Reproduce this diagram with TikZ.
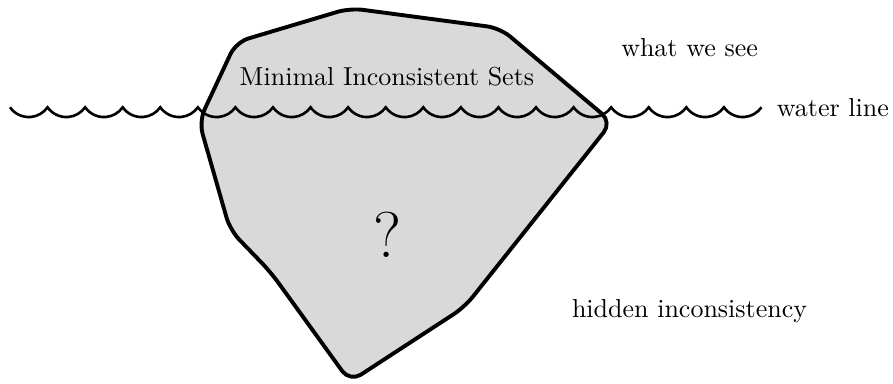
\documentclass[tikz,border=0pt]{standalone}
\usepackage{tikz}
\usetikzlibrary{positioning}
\tikzstyle{berg}=[draw,line width=1.5pt,rounded corners=5pt,line join=round]
\tikzstyle{wave}=[line width=1pt]
\tikzstyle{lbl}=[font=\normalsize,inner sep=0pt]

\begin{document}
\begin{tikzpicture}
\useasboundingbox (0,0) rectangle (12.07,5.19);
\fill[gray!30,rounded corners=5pt] (2.69,3.55) -- (3.19,4.62) -- (4.73,5.08) -- (6.76,4.81) -- (8.27,3.54) -- (6.28,1.04) -- (4.73,0.03) -- (3.66,1.51) -- (3.11,2.08) -- cycle;
\coordinate (wstart) at (0.135,3.74);
\draw[wave] (wstart) foreach \i in {1,...,20} { arc[start angle=215,end angle=325,radius=0.31cm] } coordinate (wend);
\draw[berg] (2.69,3.55) -- (3.19,4.62) -- (4.73,5.08) -- (6.76,4.81) -- (8.27,3.54) -- (6.28,1.04) -- (4.73,0.03) -- (3.66,1.51) -- (3.11,2.08) -- cycle;
\node[lbl] (mis) at (5.23,4.16) {Minimal Inconsistent Sets};
\node[lbl,font=\Huge] (q) at (5.24,2.01) {?};
\node[lbl] (see) at (9.32,4.54) {what we see};
\node[lbl,anchor=west] (water) at ([xshift=0.2cm,yshift=-0.01cm]wend) {water line};
\node[lbl] (hidden) at (9.32,0.98) {hidden inconsistency};
\end{tikzpicture}
\end{document}
